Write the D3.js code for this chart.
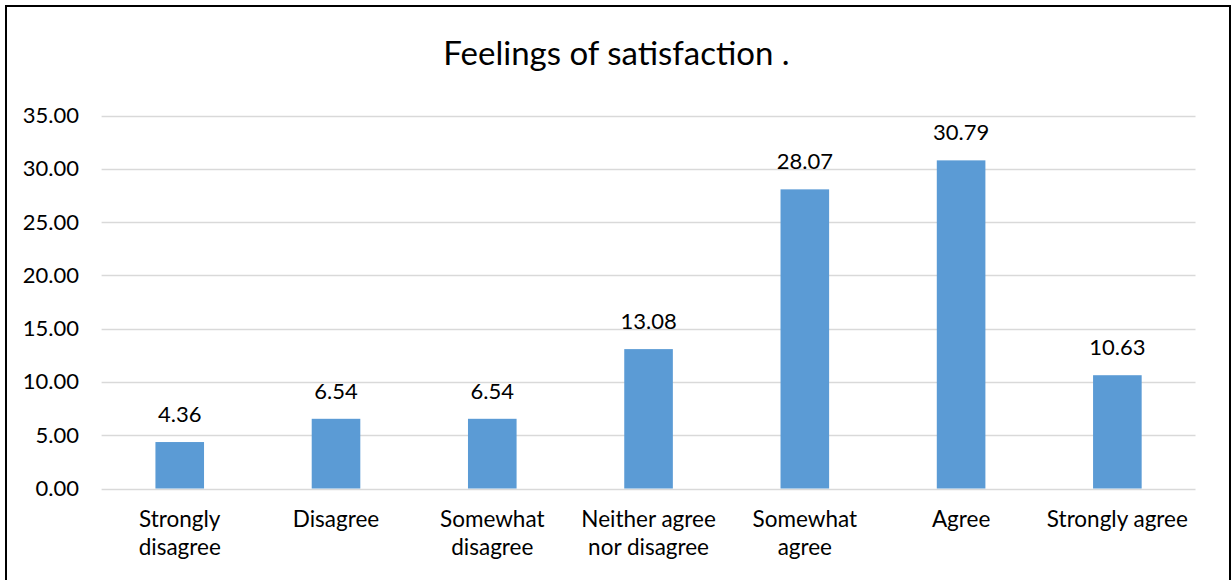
<!DOCTYPE html>
<html>
<head>
<meta charset="utf-8">
<script src="https://cdn.jsdelivr.net/npm/d3@7"></script>
<style>
  html, body { margin: 0; padding: 0; background: #fff; }
  svg { display: block; }
  text { font-family: Lato, "Open Sans", sans-serif; fill: #000; }
</style>
</head>
<body>
<svg id="chart" width="1231" height="580"></svg>
<script>
// Survey responses (percent) for each agreement level
const categories = [
  ["Strongly", "disagree"],
  ["Disagree"],
  ["Somewhat", "disagree"],
  ["Neither agree", "nor disagree"],
  ["Somewhat", "agree"],
  ["Agree"],
  ["Strongly agree"]
];
const values = [4.36, 6.54, 6.54, 13.08, 28.07, 30.79, 10.63];
const yTicks = [0, 5, 10, 15, 20, 25, 30, 35];
const title = "Feelings of satisfaction .";

const svg = d3.select("#chart");

// chart frame
svg.append("rect")
  .attr("x", 6).attr("y", 6)
  .attr("width", 1224).attr("height", 580)
  .attr("fill", "#fff")
  .attr("stroke", "#000").attr("stroke-width", 2);

const plot = { left: 101.6, right: 1195.5, top: 115.5, bottom: 488.5 };

const x = d3.scaleBand()
  .domain(d3.range(categories.length))
  .range([plot.left, plot.right])
  .padding(0);

const y = d3.scaleLinear()
  .domain([0, 35])
  .range([plot.bottom, plot.top]);

const barW = x.bandwidth() * 0.311;

// title
svg.append("text")
  .attr("x", 616.5).attr("y", 65)
  .attr("text-anchor", "middle")
  .style("font-size", "33px")
  .text(title);

// gridlines
svg.append("g")
  .selectAll("line")
  .data(yTicks)
  .join("line")
  .attr("x1", plot.left).attr("x2", plot.right)
  .attr("y1", d => Math.round(y(d)) + 0.5)
  .attr("y2", d => Math.round(y(d)) + 0.5)
  .attr("stroke", "#d9d9d9").attr("stroke-width", 1.5);

// y axis labels
const yAxis = d3.axisLeft(y)
  .tickValues(yTicks)
  .tickFormat(d3.format(".2f"))
  .tickSize(0)
  .tickPadding(0);
const gy = svg.append("g")
  .attr("transform", `translate(79,0)`)
  .call(yAxis);
gy.select(".domain").remove();
gy.selectAll("text")
  .style("font-family", "Lato, 'Open Sans', sans-serif")
  .style("font-size", "22px")
  .attr("fill", "#000");

// bars
svg.append("g")
  .selectAll("rect")
  .data(values)
  .join("rect")
  .attr("x", (d, i) => x(i) + (x.bandwidth() - barW) / 2)
  .attr("width", barW)
  .attr("y", d => y(d))
  .attr("height", d => y(0) - y(d))
  .attr("fill", "#5b9bd5");

// value labels
svg.append("g")
  .selectAll("text")
  .data(values)
  .join("text")
  .attr("x", (d, i) => x(i) + x.bandwidth() / 2)
  .attr("y", d => y(d) - 20)
  .attr("text-anchor", "middle")
  .style("font-size", "22px")
  .text(d => d.toFixed(2));

// category labels
const cat = svg.append("g")
  .selectAll("text")
  .data(categories)
  .join("text")
  .attr("x", (d, i) => x(i) + x.bandwidth() / 2)
  .attr("y", 527)
  .attr("text-anchor", "middle")
  .style("font-size", "22.5px");
cat.selectAll("tspan")
  .data(d => d)
  .join("tspan")
  .attr("x", function () { return d3.select(this.parentNode).attr("x"); })
  .attr("dy", (d, i) => i === 0 ? 0 : 28)
  .text(d => d);
</script>
</body>
</html>
